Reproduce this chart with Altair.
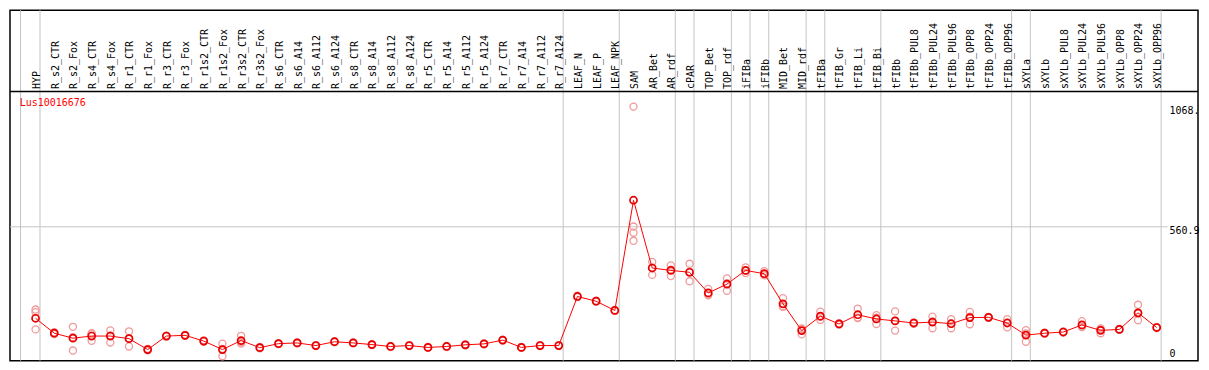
import altair as alt
import pandas as pd

# ---------------- data ----------------
gene = "Lus10016676"

categories = [
    "HYP", "R_s2_CTR", "R_s2_Fox", "R_s4_CTR", "R_s4_Fox", "R_r1_CTR", "R_r1_Fox",
    "R_r3_CTR", "R_r3_Fox", "R_r1s2_CTR", "R_r1s2_Fox", "R_r3s2_CTR", "R_r3s2_Fox",
    "R_s6_CTR", "R_s6_A14", "R_s6_A112", "R_s6_A124", "R_s8_CTR", "R_s8_A14",
    "R_s8_A112", "R_s8_A124", "R_r5_CTR", "R_r5_A14", "R_r5_A112", "R_r5_A124",
    "R_r7_CTR", "R_r7_A14", "R_r7_A112", "R_r7_A124", "LEAF_N", "LEAF_P", "LEAF_NPK",
    "SAM", "AR_Bet", "AR_rdf", "cPAR", "TOP_Bet", "TOP_rdf", "iFIBa", "iFIBb",
    "MID_Bet", "MID_rdf", "tFIBa", "tFIB_Gr", "tFIB_Li", "tFIB_Bi", "tFIBb",
    "tFIBb_PUL8", "tFIBb_PUL24", "tFIBb_PUL96", "tFIBb_OPP8", "tFIBb_OPP24",
    "tFIBb_OPP96", "sXYLa", "sXYLb", "sXYLb_PUL8", "sXYLb_PUL24", "sXYLb_PUL96",
    "sXYLb_OPP8", "sXYLb_OPP24", "sXYLb_OPP96",
]

means = [
    175, 112, 91, 100, 100, 89, 43, 100, 103, 79, 43, 81, 51,
    68, 71, 60, 76, 71, 64, 56, 60, 52, 56, 63, 67, 83, 52, 60, 60,
    267, 247, 208, 673, 387, 377, 369, 282, 319, 377, 363, 236, 123,
    184, 151, 190, 172, 164, 155, 159, 152, 178, 179, 155,
    104, 112, 117, 147, 124, 128, 198, 136,
]

replicates = [
    [212, 201, 128], [108, 116], [139, 39, 95], [112, 80, 108], [124, 73, 103],
    [120, 56, 91], [40, 46], [98, 102], [101, 105], [76, 82], [68, 15, 46],
    [101, 68, 74], [48, 54], [66, 70], [69, 73], [58, 62], [74, 78], [69, 73],
    [62, 66], [54, 58], [58, 62], [50, 54], [54, 58], [61, 65], [65, 69],
    [81, 85], [50, 54], [58, 62], [58, 62], [264, 270], [245, 249], [206, 210],
    [1068, 562, 536, 502], [413, 358, 390], [398, 353, 380], [405, 331, 371],
    [299, 272, 275], [343, 291, 323], [390, 366, 375], [374, 356, 359],
    [260, 225, 223], [107, 130, 132], [203, 168, 181], [148, 154],
    [216, 176, 178], [188, 151, 177], [204, 123, 165], [152, 158],
    [182, 133, 162], [171, 133, 152], [202, 150, 182], [177, 181],
    [171, 137, 157], [125, 76, 111], [110, 114], [115, 119], [163, 140, 138],
    [112, 128, 132], [126, 130], [232, 167, 195], [134, 138],
]

group_after = [0, 28, 31, 34, 35, 37, 38, 39, 41, 42, 45, 52, 53, 60]
tick_values = [1068, 560.9, 0]
tick_labels = ["1068.", "560.9", "0"]
gridline_values = [560.9]

# ---------------- layout (reference pixel geometry) ----------------
REF_W, REF_H = 1208, 369
X0, DX = 26, 19            # first category pixel, category spacing
Y0, K = 368, 140 / 560.9   # pixel of value 0, pixels per unit


def px_x(p):
    return (p - X0) / DX


def px_y(p):
    return (Y0 - p) / K


W, H = 1190, 351
FONT = "DejaVu Sans Mono"

xs = alt.Scale(domain=[px_x(0), px_x(REF_W)], nice=False, zero=False)
ys = alt.Scale(domain=[px_y(REF_H), px_y(0)], nice=False, zero=False)

idx = list(range(len(categories)))
df_m = pd.DataFrame({"i": idx, "cat": categories, "v": means})
rows = []
for i, reps in enumerate(replicates):
    for r in reps:
        rows.append({"i": i, "cat": categories[i], "v": r})
df_r = pd.DataFrame(rows)

LAB_OFF = 4.5 / DX
df_lab = pd.DataFrame({"x": [i + LAB_OFF for i in idx], "y": px_y(83), "t": categories})
df_vr = pd.DataFrame({"x": [px_x(10.7)] + [g + LAB_OFF for g in group_after]})
df_hr = pd.DataFrame({"y": gridline_values, "x": px_x(0), "x2": px_x(1177)})
df_tick = pd.DataFrame({
    "x": px_x(1179),
    "y": [px_y(min(Y0 - v * K + 4.5, 362)) for v in tick_values],
    "t": tick_labels,
})

X = lambda f: alt.X(f, type="quantitative", scale=xs, axis=None)
Y = lambda f: alt.Y(f, type="quantitative", scale=ys, axis=None)

vrules = alt.Chart(df_vr).mark_rule(color="#c4c4c4", strokeWidth=1).encode(x=X("x"))
hrule = alt.Chart(df_hr).mark_rule(color="#c4c4c4", strokeWidth=1).encode(
    x=X("x"), x2="x2", y=Y("y"))
header = alt.Chart(pd.DataFrame({"y": [px_y(85.5)]})).mark_rule(
    color="black", strokeWidth=1.5).encode(y=Y("y"))

labels = alt.Chart(df_lab).mark_text(
    angle=270, align="left", baseline="alphabetic", font=FONT, fontSize=10, color="black"
).encode(x=X("x"), y=Y("y"), text="t:N")

ticks = alt.Chart(df_tick).mark_text(
    align="left", baseline="middle", font=FONT, fontSize=10, color="black"
).encode(x=X("x"), y=Y("y"), text="t:N")

title = alt.Chart(pd.DataFrame({"x": [px_x(10)], "y": [px_y(98)], "t": [gene]})).mark_text(
    align="left", baseline="middle", font=FONT, fontSize=10, color="#ff0000"
).encode(x=X("x"), y=Y("y"), text="t:N")

reps = alt.Chart(df_r).mark_point(
    shape="circle", filled=False, size=50, color="#f09a9a", strokeWidth=1.3, opacity=1
).encode(x=X("i"), y=Y("v"))

line = alt.Chart(df_m).mark_line(color="#ff0000", strokeWidth=1).encode(x=X("i"), y=Y("v"))

pts = alt.Chart(df_m).mark_point(
    shape="circle", filled=False, size=50, color="#e80000", strokeWidth=1.7, opacity=1
).encode(x=X("i"), y=Y("v"))

chart = alt.layer(vrules, hrule, header, labels, ticks, title, reps, line, pts).properties(
    width=W, height=H, padding={"left": 1, "top": 1, "right": 1, "bottom": 1}
).configure_view(stroke="black", strokeWidth=1.5)

chart.save("out.html", embed_options={"renderer": "svg", "actions": False})
